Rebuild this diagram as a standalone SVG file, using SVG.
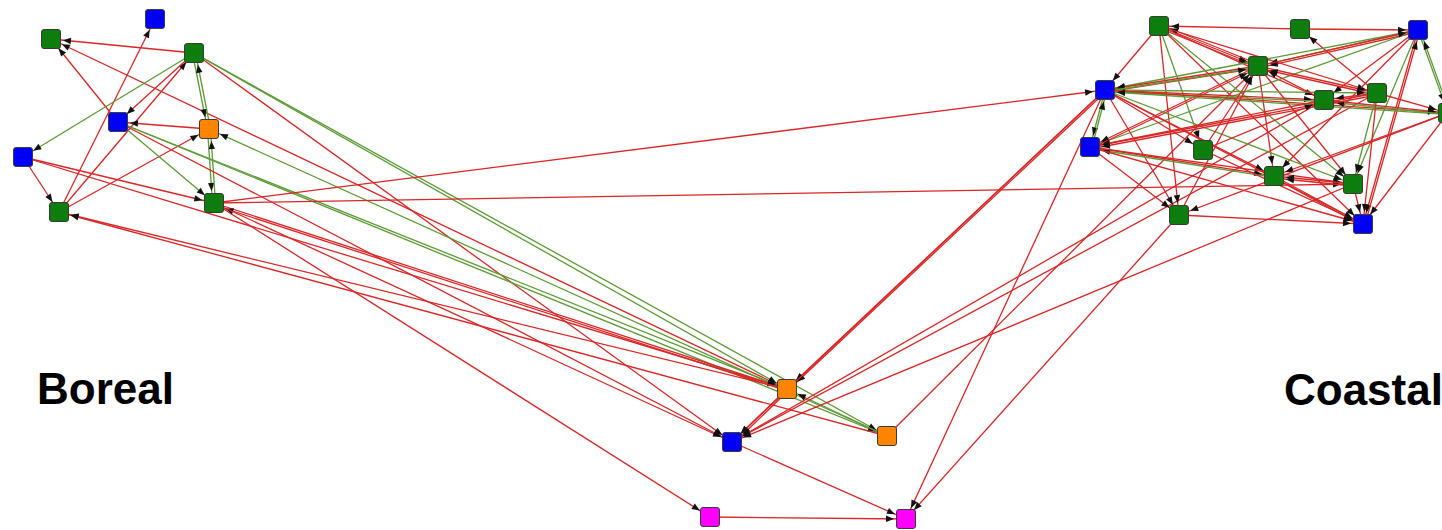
<svg xmlns="http://www.w3.org/2000/svg" width="1442" height="530" viewBox="0 0 1442 530">
  <defs>
    <!-- arrowhead stops ~12px short of the target centre, on the node edge -->
    <marker id="tip" viewBox="0 0 22 10" refX="21" refY="5" markerWidth="22" markerHeight="10" orient="auto" markerUnits="userSpaceOnUse">
      <path d="M1,1.8 L9,5 L1,8.2 Z" fill="#111"/>
    </marker>
  </defs>
  <style>
    .r{stroke:#d92626;stroke-width:1.3;fill:none;marker-end:url(#tip)}
    .g{stroke:#5c9a36;stroke-width:1.3;fill:none;marker-end:url(#tip)}
    .n{stroke:#3a3a3a;stroke-width:1}
    .gr{fill:#0d7d0d}
    .bl{fill:#0000f5}
    .or{fill:#ff8500}
    .mg{fill:#ff00ff}
    text{font-family:"Liberation Sans",Arial,sans-serif;font-weight:bold;font-size:44px;fill:#000}
  </style>
  <rect x="0" y="0" width="1442" height="530" fill="#fff"/>

  <g id="connectors">
    <!-- Boreal cluster -->
    <line class="r" x1="194" y1="53" x2="51" y2="39"/>
    <line class="r" x1="118" y1="122" x2="51" y2="39"/>
    <line class="r" x1="787" y1="389" x2="51" y2="39"/>
    <line class="r" x1="59" y1="212" x2="155" y2="19"/>
    <line class="r" x1="59" y1="212" x2="194" y2="53"/>
    <line class="r" x1="59" y1="212" x2="209" y2="129"/>
    <line class="g" x1="194" y1="53" x2="23" y2="157"/>
    <line class="r" x1="194" y1="53" x2="118" y2="122"/>
    <line class="g" x1="192.5" y1="53" x2="207.5" y2="129"/>
    <line class="g" x1="210.5" y1="129" x2="195.5" y2="53"/>
    <line class="g" x1="207.5" y1="129" x2="212.5" y2="203"/>
    <line class="g" x1="215.5" y1="203" x2="210.5" y2="129"/>
    <line class="r" x1="209" y1="129" x2="118" y2="122"/>
    <line class="g" x1="118" y1="122" x2="214" y2="203"/>
    <line class="r" x1="23" y1="157" x2="59" y2="212"/>
    <line class="r" x1="23" y1="157" x2="214" y2="203"/>
    <line class="r" x1="23" y1="157" x2="787" y2="389"/>

    <!-- Boreal to the middle group -->
    <line class="r" x1="214" y1="203" x2="710" y2="517"/>
    <line class="r" x1="194" y1="53" x2="732" y2="442"/>
    <line class="g" x1="194" y1="53" x2="787" y2="389"/>
    <line class="g" x1="194" y1="53" x2="887" y2="436"/>
    <line class="g" x1="118" y1="122" x2="787" y2="389"/>
    <line class="g" x1="118" y1="122" x2="887" y2="436"/>
    <line class="g" x1="887" y1="436" x2="209" y2="129"/>
    <line class="r" x1="214" y1="203" x2="787" y2="389"/>
    <line class="r" x1="787" y1="389" x2="214" y2="203" transform="translate(0,2)"/>
    <line class="r" x1="787" y1="389" x2="59" y2="212"/>
    <line class="r" x1="887" y1="436" x2="59" y2="212"/>
    <line class="r" x1="214" y1="203" x2="732" y2="442"/>
    <line class="r" x1="118" y1="122" x2="732" y2="442"/>

    <!-- Boreal to Coastal -->
    <line class="r" x1="214" y1="203" x2="1105" y2="90"/>
    <line class="r" x1="214" y1="203" x2="1353" y2="184"/>

    <!-- middle group -->
    <line class="r" x1="787" y1="389" x2="732" y2="442"/>
    <line class="r" x1="789" y1="390" x2="734" y2="443"/>
    <line class="g" x1="887" y1="436" x2="787" y2="389"/>
    <line class="r" x1="732" y1="442" x2="906" y2="519"/>
    <line class="r" x1="710" y1="517" x2="906" y2="519"/>

    <!-- Coastal to the middle group -->
    <line class="r" x1="1105" y1="90" x2="906" y2="519"/>
    <line class="r" x1="1179" y1="215" x2="906" y2="519"/>
    <line class="r" x1="1105" y1="90" x2="787" y2="389"/>
    <line class="r" x1="1106.5" y1="91" x2="788.5" y2="390"/>
    <line class="r" x1="1105" y1="90" x2="732" y2="442"/>
    <line class="r" x1="1324" y1="100" x2="732" y2="442"/>
    <line class="r" x1="1377" y1="93" x2="732" y2="442"/>
    <line class="r" x1="1353" y1="184" x2="732" y2="442"/>
    <line class="r" x1="887" y1="436" x2="1258" y2="66"/>

    <!-- Coastal cluster -->
    <line class="r" x1="1300" y1="29" x2="1159" y2="26"/>
    <line class="r" x1="1300" y1="29" x2="1418" y2="30"/>
    <line class="r" x1="1377" y1="93" x2="1300" y2="29"/>
    <line class="r" x1="1159" y1="26" x2="1258" y2="66"/>
    <line class="r" x1="1159" y1="28" x2="1258" y2="68"/>
    <line class="r" x1="1258" y1="64" x2="1159" y2="24"/>
    <line class="r" x1="1159" y1="26" x2="1377" y2="93"/>
    <line class="r" x1="1159" y1="26" x2="1324" y2="100"/>
    <line class="g" x1="1159" y1="26" x2="1203" y2="150"/>
    <line class="g" x1="1159" y1="26" x2="1353" y2="184"/>
    <line class="r" x1="1159" y1="26" x2="1179" y2="215"/>
    <line class="r" x1="1159" y1="26" x2="1363" y2="224"/>
    <line class="r" x1="1159" y1="26" x2="1105" y2="90"/>
    <line class="g" x1="1418" y1="30" x2="1258" y2="66"/>
    <line class="r" x1="1418" y1="32" x2="1258" y2="68"/>
    <line class="g" x1="1418" y1="30" x2="1105" y2="90"/>
    <line class="g" x1="1418" y1="30" x2="1090" y2="147"/>
    <line class="g" x1="1418" y1="30" x2="1448" y2="113"/>
    <line class="g" x1="1450" y1="113" x2="1420" y2="30"/>
    <line class="g" x1="1418" y1="30" x2="1353" y2="184"/>
    <line class="r" x1="1418" y1="30" x2="1363" y2="224"/>
    <line class="r" x1="1365" y1="224" x2="1420" y2="30"/>
    <line class="r" x1="1418" y1="30" x2="1274" y2="176"/>
    <line class="r" x1="1418" y1="30" x2="1324" y2="100"/>
    <line class="r" x1="1258" y1="66" x2="1105" y2="90"/>
    <line class="r" x1="1258" y1="68" x2="1105" y2="92"/>
    <line class="g" x1="1105" y1="90" x2="1258" y2="66" transform="translate(0,1.5)"/>
    <line class="r" x1="1258" y1="66" x2="1377" y2="93"/>
    <line class="r" x1="1377" y1="95" x2="1258" y2="68"/>
    <line class="r" x1="1258" y1="66" x2="1090" y2="147"/>
    <line class="r" x1="1090" y1="147" x2="1258" y2="66" transform="translate(0,2)"/>
    <line class="r" x1="1258" y1="66" x2="1353" y2="184"/>
    <line class="r" x1="1258" y1="66" x2="1274" y2="176"/>
    <line class="r" x1="1258" y1="66" x2="1418" y2="30"/>
    <line class="r" x1="1105" y1="90" x2="1324" y2="100"/>
    <line class="g" x1="1324" y1="100" x2="1105" y2="90" transform="translate(0,1.5)"/>
    <line class="g" x1="1105" y1="90" x2="1377" y2="93"/>
    <line class="r" x1="1105" y1="90" x2="1448" y2="113"/>
    <line class="g" x1="1448" y1="113" x2="1105" y2="90" transform="translate(0,1.5)"/>
    <line class="g" x1="1105" y1="90" x2="1090" y2="147"/>
    <line class="g" x1="1092" y1="147" x2="1107" y2="90"/>
    <line class="r" x1="1105" y1="90" x2="1203" y2="150"/>
    <line class="r" x1="1105" y1="90" x2="1274" y2="176"/>
    <line class="r" x1="1105" y1="90" x2="1179" y2="215"/>
    <line class="r" x1="1105" y1="90" x2="1363" y2="224"/>
    <line class="g" x1="1105" y1="90" x2="1353" y2="184"/>
    <line class="r" x1="1377" y1="93" x2="1324" y2="100"/>
    <line class="r" x1="1377" y1="93" x2="1448" y2="113"/>
    <line class="r" x1="1324" y1="100" x2="1448" y2="113"/>
    <line class="g" x1="1448" y1="113" x2="1324" y2="100" transform="translate(0,1.5)"/>
    <line class="r" x1="1377" y1="93" x2="1090" y2="147"/>
    <line class="r" x1="1377" y1="95" x2="1090" y2="149"/>
    <line class="g" x1="1377" y1="93" x2="1353" y2="184"/>
    <line class="r" x1="1377" y1="93" x2="1363" y2="224"/>
    <line class="r" x1="1324" y1="100" x2="1258" y2="66"/>
    <line class="r" x1="1324" y1="100" x2="1090" y2="147"/>
    <line class="r" x1="1090" y1="147" x2="1274" y2="176"/>
    <line class="g" x1="1274" y1="176" x2="1090" y2="147" transform="translate(0,1.5)"/>
    <line class="r" x1="1090" y1="147" x2="1353" y2="184"/>
    <line class="r" x1="1090" y1="147" x2="1179" y2="215"/>
    <line class="r" x1="1090" y1="147" x2="1363" y2="224"/>
    <line class="r" x1="1203" y1="150" x2="1324" y2="100"/>
    <line class="r" x1="1203" y1="150" x2="1363" y2="224"/>
    <line class="r" x1="1203" y1="150" x2="1258" y2="66"/>
    <line class="r" x1="1274" y1="176" x2="1363" y2="224"/>
    <line class="r" x1="1274" y1="178" x2="1363" y2="226"/>
    <line class="r" x1="1353" y1="184" x2="1274" y2="176"/>
    <line class="r" x1="1353" y1="186" x2="1274" y2="178"/>
    <line class="r" x1="1353" y1="184" x2="1363" y2="224"/>
    <line class="r" x1="1448" y1="113" x2="1274" y2="176"/>
    <line class="r" x1="1448" y1="113" x2="1363" y2="224"/>
    <line class="r" x1="1448" y1="113" x2="1179" y2="215"/>
    <line class="r" x1="1179" y1="215" x2="1363" y2="224"/>
    <line class="r" x1="1179" y1="215" x2="1258" y2="66"/>
  </g>

  <!-- Boreal nodes -->
  <g id="b-blue-1"><rect class="n bl" x="145.5" y="9.5" width="19" height="19" rx="2.5"/></g>
  <g id="b-green-1"><rect class="n gr" x="41.5" y="29.5" width="19" height="19" rx="2.5"/></g>
  <g id="b-green-2"><rect class="n gr" x="184.5" y="43.5" width="19" height="19" rx="2.5"/></g>
  <g id="b-blue-2"><rect class="n bl" x="108.5" y="112.5" width="19" height="19" rx="2.5"/></g>
  <g id="b-orange-1"><rect class="n or" x="199.5" y="119.5" width="19" height="19" rx="2.5"/></g>
  <g id="b-blue-3"><rect class="n bl" x="13.5" y="147.5" width="19" height="19" rx="2.5"/></g>
  <g id="b-green-3"><rect class="n gr" x="204.5" y="193.5" width="19" height="19" rx="2.5"/></g>
  <g id="b-green-4"><rect class="n gr" x="49.5" y="202.5" width="19" height="19" rx="2.5"/></g>

  <!-- middle nodes -->
  <g id="m-orange-1"><rect class="n or" x="777.5" y="379.5" width="19" height="19" rx="2.5"/></g>
  <g id="m-blue-1"><rect class="n bl" x="722.5" y="432.5" width="19" height="19" rx="2.5"/></g>
  <g id="m-orange-2"><rect class="n or" x="877.5" y="426.5" width="19" height="19" rx="2.5"/></g>
  <g id="m-magenta-1"><rect class="n mg" x="700.5" y="507.5" width="19" height="19" rx="2.5"/></g>
  <g id="m-magenta-2"><rect class="n mg" x="896.5" y="509.5" width="19" height="19" rx="2.5"/></g>

  <!-- Coastal nodes -->
  <g id="c-green-1"><rect class="n gr" x="1149.5" y="16.5" width="19" height="19" rx="2.5"/></g>
  <g id="c-green-2"><rect class="n gr" x="1290.5" y="19.5" width="19" height="19" rx="2.5"/></g>
  <g id="c-blue-1"><rect class="n bl" x="1408.5" y="20.5" width="19" height="19" rx="2.5"/></g>
  <g id="c-green-3"><rect class="n gr" x="1248.5" y="56.5" width="19" height="19" rx="2.5"/></g>
  <g id="c-blue-2"><rect class="n bl" x="1095.5" y="80.5" width="19" height="19" rx="2.5"/></g>
  <g id="c-green-4"><rect class="n gr" x="1367.5" y="83.5" width="19" height="19" rx="2.5"/></g>
  <g id="c-green-5"><rect class="n gr" x="1314.5" y="90.5" width="19" height="19" rx="2.5"/></g>
  <g id="c-green-6"><rect class="n gr" x="1438.5" y="103.5" width="19" height="19" rx="2.5"/></g>
  <g id="c-blue-3"><rect class="n bl" x="1080.5" y="137.5" width="19" height="19" rx="2.5"/></g>
  <g id="c-green-7"><rect class="n gr" x="1193.5" y="140.5" width="19" height="19" rx="2.5"/></g>
  <g id="c-green-8"><rect class="n gr" x="1264.5" y="166.5" width="19" height="19" rx="2.5"/></g>
  <g id="c-green-9"><rect class="n gr" x="1343.5" y="174.5" width="19" height="19" rx="2.5"/></g>
  <g id="c-green-10"><rect class="n gr" x="1169.5" y="205.5" width="19" height="19" rx="2.5"/></g>
  <g id="c-blue-4"><rect class="n bl" x="1353.5" y="214.5" width="19" height="19" rx="2.5"/></g>

  <!-- region labels -->
  <g id="labels">
    <text x="37" y="404">Boreal</text>
    <text x="1284" y="405">Coastal</text>
  </g>
</svg>
